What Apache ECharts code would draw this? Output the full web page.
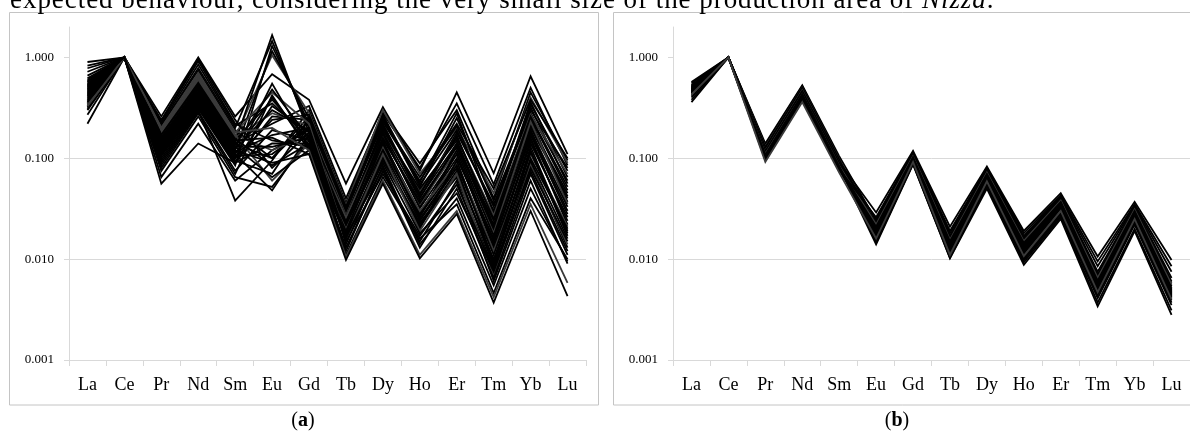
<!DOCTYPE html>
<html><head><meta charset="utf-8">
<script src="https://cdn.jsdelivr.net/npm/echarts@6/dist/echarts.min.js"></script>
<style>
html,body{margin:0;padding:0;background:#fff;overflow:hidden;width:1190px;height:440px}
#chart{position:absolute;left:0;top:0;width:1190px;height:440px}
#para{position:absolute;left:10px;top:-16.5px;font-family:'Liberation Serif',serif;font-size:27px;letter-spacing:0.95px;line-height:30px;white-space:nowrap;color:#000}
</style></head><body>
<div id="chart"></div>
<div id="para">expected behaviour, considering the very small size of the production area of <i>Nizza</i>.</div>
<script>
// Categories and tick labels
const elements = ['La','Ce','Pr','Nd','Sm','Eu','Gd','Tb','Dy','Ho','Er','Tm','Yb','Lu'];
const yTickValues = [0.001, 0.01, 0.1, 1];
const captions = ['a', 'b'];

// Panel (a): one array per element, index = sample
const A_La = [0.90,0.41,0.60,0.35,0.52,0.32,0.46,0.83,0.40,0.58,0.35,0.51,0.31,0.45,0.78,0.39,0.57,0.34,0.50,0.30,0.44,0.72,0.38,0.55,0.34,0.49,0.27,0.43,0.66,0.37,0.54,0.33,0.48,0.22,0.42,0.62,0.36,0.53,0.33,0.47];
const A_Ce = [1,1,1,1,1,1,1,1,1,1,1,1,1,1,1,1,1,1,1,1,1,1,1,1,1,1,1,1,1,1,1,1,1,1,1,1,1,1,1,1];
const A_Pr = [0.26,0.15,0.09,0.18,0.115,0.21,0.135,0.056,0.155,0.095,0.18,0.12,0.21,0.14,0.065,0.16,0.10,0.19,0.12,0.22,0.14,0.075,0.16,0.105,0.19,0.125,0.23,0.145,0.08,0.17,0.11,0.20,0.13,0.24,0.15,0.085,0.17,0.11,0.20,0.13];
const A_Nd = [1.0,0.48,0.30,0.58,0.36,0.74,0.42,0.14,0.49,0.31,0.60,0.37,0.78,0.43,0.22,0.50,0.32,0.62,0.38,0.85,0.44,0.26,0.52,0.33,0.64,0.39,0.92,0.45,0.28,0.54,0.34,0.67,0.40,0.97,0.46,0.29,0.56,0.35,0.70,0.41];
const A_Sm = [0.26,0.14,0.038,0.16,0.10,0.19,0.12,0.09,0.14,0.085,0.16,0.105,0.20,0.125,0.06,0.145,0.09,0.17,0.11,0.21,0.13,0.065,0.15,0.09,0.17,0.11,0.22,0.13,0.07,0.15,0.095,0.18,0.115,0.24,0.135,0.075,0.155,0.10,0.18,0.12];
const A_Eu = [0.68,0.22,0.095,1.05,0.24,0.10,1.15,0.26,0.10,1.30,0.28,0.11,1.45,0.30,0.12,1.66,0.33,0.12,0.048,0.35,0.13,0.052,0.38,0.14,0.06,0.40,0.15,0.065,0.42,0.16,0.07,0.45,0.17,0.08,0.48,0.19,0.085,0.55,0.20,0.09];
const A_Gd = [0.38,0.33,0.30,0.28,0.27,0.26,0.25,0.24,0.23,0.22,0.21,0.20,0.20,0.19,0.19,0.18,0.18,0.17,0.17,0.16,0.16,0.15,0.15,0.14,0.14,0.13,0.13,0.12,0.12,0.11,0.25,0.22,0.20,0.18,0.16,0.15,0.14,0.13,0.12,0.11];
const A_Tb = [0.056,0.040,0.036,0.034,0.033,0.028,0.031,0.030,0.029,0.032,0.027,0.026,0.023,0.025,0.025,0.024,0.024,0.026,0.023,0.022,0.019,0.021,0.021,0.020,0.020,0.019,0.022,0.018,0.018,0.017,0.014,0.016,0.016,0.015,0.017,0.013,0.012,0.011,0.0105,0.0098];
const A_Dy = [0.32,0.28,0.29,0.30,0.24,0.26,0.25,0.27,0.23,0.22,0.185,0.20,0.19,0.21,0.18,0.155,0.17,0.165,0.16,0.175,0.15,0.145,0.125,0.135,0.13,0.14,0.12,0.115,0.095,0.105,0.10,0.11,0.09,0.07,0.08,0.075,0.085,0.065,0.06,0.056];
const A_Ho = [0.075,0.08,0.089,0.07,0.065,0.052,0.058,0.055,0.06,0.043,0.048,0.045,0.05,0.041,0.04,0.038,0.033,0.035,0.036,0.032,0.026,0.029,0.028,0.027,0.03,0.025,0.024,0.02,0.022,0.021,0.023,0.019,0.018,0.017,0.013,0.015,0.014,0.016,0.011,0.0102];
const A_Er = [0.45,0.35,0.30,0.20,0.22,0.25,0.28,0.19,0.21,0.18,0.16,0.16,0.15,0.14,0.17,0.13,0.14,0.12,0.13,0.11,0.12,0.10,0.11,0.09,0.09,0.085,0.08,0.095,0.075,0.07,0.065,0.07,0.045,0.055,0.05,0.06,0.04,0.035,0.03,0.028];
const A_Tm = [0.071,0.055,0.04,0.045,0.05,0.038,0.028,0.033,0.03,0.035,0.027,0.025,0.02,0.022,0.021,0.024,0.019,0.018,0.017,0.014,0.015,0.016,0.013,0.012,0.012,0.011,0.0085,0.0095,0.009,0.010,0.008,0.007,0.0075,0.0078,0.0065,0.0061,0.0055,0.0046,0.0042,0.0037];
const A_Yb = [0.65,0.50,0.45,0.40,0.38,0.30,0.34,0.32,0.36,0.28,0.27,0.26,0.25,0.24,0.20,0.22,0.21,0.23,0.19,0.18,0.17,0.16,0.15,0.14,0.11,0.12,0.115,0.13,0.10,0.095,0.09,0.085,0.08,0.075,0.07,0.06,0.05,0.04,0.035,0.03];
const A_Lu = [0.11,0.085,0.095,0.09,0.10,0.08,0.075,0.056,0.065,0.06,0.07,0.052,0.048,0.037,0.042,0.04,0.045,0.035,0.033,0.03,0.028,0.022,0.024,0.026,0.021,0.017,0.019,0.018,0.02,0.016,0.013,0.014,0.015,0.012,0.011,0.009,0.0095,0.010,0.0058,0.0043];

// Panel (b): one array per element, index = sample
const B_La = [0.57,0.49,0.45,0.41,0.52,0.47,0.44,0.36,0.50,0.46,0.42,0.53,0.48,0.44,0.38,0.50,0.46,0.42,0.55,0.48,0.45,0.40,0.51,0.47,0.43];
const B_Ce = [1,1,1,1,1,1,1,1,1,1,1,1,1,1,1,1,1,1,1,1,1,1,1,1,1];
const B_Pr = [0.14,0.135,0.13,0.13,0.128,0.125,0.125,0.122,0.12,0.12,0.118,0.117,0.115,0.115,0.113,0.112,0.11,0.11,0.108,0.106,0.105,0.103,0.10,0.096,0.092];
const B_Nd = [0.53,0.52,0.51,0.50,0.50,0.49,0.49,0.48,0.48,0.47,0.47,0.46,0.46,0.45,0.45,0.44,0.44,0.43,0.43,0.42,0.41,0.40,0.39,0.38,0.36];
const B_Sm = [0.105,0.10,0.10,0.098,0.097,0.095,0.094,0.093,0.092,0.091,0.09,0.09,0.089,0.088,0.087,0.086,0.085,0.084,0.083,0.082,0.08,0.079,0.078,0.076,0.072];
const B_Eu = [0.024,0.019,0.0155,0.022,0.018,0.0145,0.021,0.018,0.029,0.020,0.017,0.025,0.020,0.016,0.023,0.019,0.015,0.022,0.018,0.014,0.021,0.017,0.026,0.020,0.016];
const B_Gd = [0.11,0.099,0.09,0.107,0.097,0.088,0.104,0.095,0.118,0.102,0.093,0.112,0.10,0.091,0.108,0.098,0.089,0.105,0.096,0.087,0.103,0.094,0.115,0.10,0.092];
const B_Tb = [0.017,0.0135,0.0108,0.016,0.013,0.0103,0.015,0.012,0.021,0.0145,0.0115,0.018,0.014,0.011,0.0165,0.013,0.0105,0.0155,0.0125,0.0102,0.015,0.012,0.019,0.014,0.011];
const B_Dy = [0.076,0.066,0.057,0.073,0.064,0.053,0.071,0.062,0.083,0.069,0.060,0.078,0.067,0.058,0.074,0.065,0.055,0.072,0.063,0.050,0.070,0.061,0.080,0.068,0.059];
const B_Ho = [0.0165,0.013,0.010,0.0155,0.0124,0.0093,0.0148,0.0117,0.019,0.014,0.011,0.017,0.0134,0.0104,0.016,0.0127,0.0097,0.015,0.012,0.0088,0.0145,0.0114,0.018,0.0137,0.0107];
const B_Er = [0.041,0.035,0.028,0.039,0.034,0.026,0.038,0.032,0.045,0.036,0.031,0.042,0.035,0.029,0.040,0.034,0.027,0.038,0.033,0.025,0.037,0.032,0.043,0.036,0.030];
const B_Tm = [0.0075,0.0055,0.0044,0.0067,0.0052,0.0037,0.0063,0.0050,0.0106,0.0060,0.0048,0.0085,0.0057,0.0046,0.0070,0.0054,0.0041,0.0065,0.0051,0.0034,0.0061,0.0049,0.0095,0.0058,0.0047];
const B_Yb = [0.033,0.028,0.023,0.032,0.027,0.020,0.031,0.026,0.037,0.030,0.025,0.034,0.029,0.024,0.032,0.028,0.022,0.031,0.027,0.019,0.030,0.026,0.035,0.029,0.025];
const B_Lu = [0.0065,0.0047,0.0037,0.0058,0.0045,0.0031,0.0054,0.0043,0.0098,0.0050,0.0041,0.0075,0.0048,0.0039,0.0060,0.0046,0.0035,0.0056,0.0044,0.0028,0.0052,0.0042,0.0085,0.0049,0.0040];

const panelA = [A_La,A_Ce,A_Pr,A_Nd,A_Sm,A_Eu,A_Gd,A_Tb,A_Dy,A_Ho,A_Er,A_Tm,A_Yb,A_Lu];
const panelB = [B_La,B_Ce,B_Pr,B_Nd,B_Sm,B_Eu,B_Gd,B_Tb,B_Dy,B_Ho,B_Er,B_Tm,B_Yb,B_Lu];

const gray = '#d9d9d9';
const serif = "'Liberation Serif', 'DejaVu Serif', serif";

function buildSeries(cols, k) {
  const n = cols[0].length;
  const out = [];
  for (let i = 0; i < n; i++) {
    out.push({
      type: 'line', xAxisIndex: k, yAxisIndex: k,
      data: cols.map(c => c[i]),
      symbol: 'none', silent: true,
      lineStyle: { color: (i % 7 === 3) ? '#3a3a3a' : '#000', width: 1.8, join: 'miter' }
    });
  }
  return out;
}

function isDecade(v) {
  const l = Math.log10(v);
  return Math.abs(l - Math.round(l)) < 1e-6;
}

const chart = echarts.init(document.getElementById('chart'), null, { renderer: 'canvas' });
chart.setOption({
  animation: false,
  backgroundColor: '#fff',
  grid: [
    { left: 69, top: 27, width: 517, height: 333 },
    { left: 673, top: 27, width: 518, height: 333 }
  ],
  xAxis: [0, 1].map(k => ({
    type: 'category', gridIndex: k, data: elements, boundaryGap: true,
    axisLine: { show: true, lineStyle: { color: gray, width: 1 } },
    axisTick: { show: true, length: 6, lineStyle: { color: gray } },
    axisLabel: { fontFamily: serif, fontSize: 18, color: '#000', margin: 16, interval: 0 },
    splitLine: { show: false }
  })),
  yAxis: [0, 1].map(k => ({
    type: 'log', logBase: 10, gridIndex: k, min: 0.001, max: 2,
    axisLine: { show: true, lineStyle: { color: gray, width: 1 } },
    axisTick: { show: true, length: 5, lineStyle: { color: gray }, customValues: yTickValues },
    axisLabel: {
      fontFamily: serif, fontSize: 13, color: '#000', margin: 15, customValues: yTickValues,
      formatter: v => isDecade(v) ? Number(v).toFixed(3) : ''
    },
    splitLine: { show: true, showMaxLine: false, lineStyle: { color: gray, width: 1 } }
  })),
  graphic: [
    { type: 'rect', silent: true, shape: { x: 9.5, y: 12.5, width: 589, height: 392.5 },
      style: { fill: 'none', stroke: '#c4c4c4', lineWidth: 1 } },
    { type: 'rect', silent: true, shape: { x: 613.5, y: 12.5, width: 600, height: 392.5 },
      style: { fill: 'none', stroke: '#c4c4c4', lineWidth: 1 } },
    { type: 'text', silent: true, x: 303, y: 421,
      style: { text: '{p|(}{b|' + captions[0] + '}{p|)}', align: 'center', verticalAlign: 'middle',
        rich: { p: { fontFamily: serif, fontSize: 20, color: '#000' },
                b: { fontFamily: serif, fontSize: 20, fontWeight: 'bold', color: '#000' } } } },
    { type: 'text', silent: true, x: 897, y: 421,
      style: { text: '{p|(}{b|' + captions[1] + '}{p|)}', align: 'center', verticalAlign: 'middle',
        rich: { p: { fontFamily: serif, fontSize: 20, color: '#000' },
                b: { fontFamily: serif, fontSize: 20, fontWeight: 'bold', color: '#000' } } } }
  ],
  series: buildSeries(panelA, 0).concat(buildSeries(panelB, 1))
});
</script>
</body></html>
